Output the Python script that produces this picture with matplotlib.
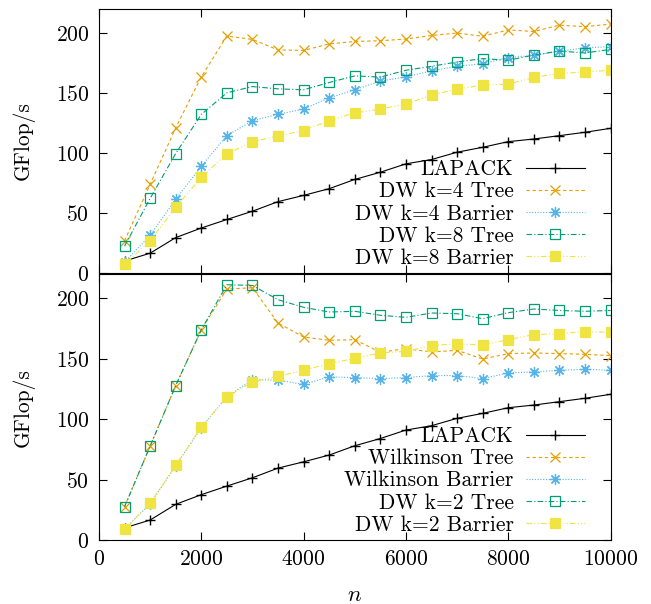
import numpy as np
import matplotlib
matplotlib.use("Agg")
import matplotlib.pyplot as plt

plt.rcParams['font.family'] = ['cmr10', 'DejaVu Serif']
plt.rcParams['mathtext.fontset'] = 'cm'
plt.rcParams['axes.formatter.use_mathtext'] = True
plt.rcParams['axes.linewidth'] = 0.8

n = np.arange(500, 10001, 500)

lapack = [10, 16.5, 29.5, 37.5, 44.6, 51.5, 59.5, 64.7, 70.3, 78,
          84, 91, 94.6, 100.7, 104.8, 109.5, 111.7, 114.5, 117.3, 120.6]

# top panel
dw4_tree = [26.8, 73.9, 121, 163.5, 197.5, 194.7, 186, 185.5, 191, 193,
            193.6, 195, 198, 200, 197.3, 202.6, 201.3, 206.6, 205.3, 207.5]
dw4_barrier = [9, 31.5, 61.4, 89, 114.5, 127, 132.3, 136.7, 146, 152.7,
               160, 163.5, 168.5, 172.3, 174.5, 179.5, 181.4, 184.7, 187.8, 188.6]
dw8_tree = [22.4, 62.2, 99.6, 132.2, 150.2, 155.4, 153.5, 152.7, 158.8, 164.3,
            163.3, 169, 172.3, 175.9, 178.7, 177.3, 181.7, 185, 183.4, 186.4]
dw8_barrier = [7.5, 26.8, 54.8, 79.7, 99.3, 109.3, 114.3, 118.7, 127, 133.4,
               136.7, 140.8, 148.3, 153.3, 156.6, 157.4, 163, 166.3, 167.6, 169]

# bottom panel
wilk_tree = [27.5, 77.7, 127.8, 174, 207.7, 208.8, 179.6, 168, 165.3, 165.8,
             155.4, 158.4, 155.6, 157, 149.8, 154.3, 154.8, 154.3, 153.7, 152.6]
wilk_barrier = [9, 30, 61.5, 93, 118.5, 132.8, 132.2, 128.9, 135, 134.4,
                133.6, 134.4, 136.1, 136.1, 133.6, 138.3, 139.1, 140.5, 141.3, 140.5]
dw2_tree = [27.5, 77.7, 127.8, 174, 211.3, 210.7, 198.9, 192.6, 188.7, 189.3,
            186, 184.3, 187.9, 187.3, 183.2, 188.2, 191.2, 190, 189.3, 190]
dw2_barrier = [9.1, 30.3, 61.7, 93.4, 118.5, 130.8, 135.5, 140.5, 146, 150.3,
               154.8, 156.2, 160.9, 162.5, 161.4, 165.8, 170, 170.8, 172.5, 171.9]

top_labels = ["LAPACK", "DW k=4 Tree", "DW k=4 Barrier", "DW k=8 Tree", "DW k=8 Barrier"]
bottom_labels = ["LAPACK", "Wilkinson Tree", "Wilkinson Barrier", "DW k=2 Tree", "DW k=2 Barrier"]

styles = [
    dict(color="black", ls="-", marker="+", ms=7, mew=1.0),
    dict(color="#E69F00", ls=(0, (3, 2.5)), marker="x", ms=6.5, mew=0.9),
    dict(color="#56B4E9", ls=(0, (1, 1.5)), marker=(8, 2, 0), ms=8, mew=0.9),
    dict(color="#009E73", ls=(0, (5, 2, 1, 2)), marker="s", ms=6.5, mew=0.9, mfc="none"),
    dict(color="#F0E442", ls=(0, (5, 2, 1, 2, 1, 2)), marker="s", ms=6.5, mew=0.9),
]

fs = 15.5

fig = plt.figure(figsize=(6.51, 6.04), dpi=100)
ax1 = fig.add_axes([0.152, 0.548, 0.786, 0.437])
ax2 = fig.add_axes([0.152, 0.106, 0.786, 0.440])


def draw(ax, series, labels):
    for y, lab, st in zip(series, labels, styles):
        ax.plot(n, y, lw=0.8, label=lab, **st)
    ax.set_xlim(0, 10000)
    ax.set_ylim(0, 220)
    ax.set_yticks([0, 50, 100, 150, 200])
    ax.set_xticks([0, 2000, 4000, 6000, 8000, 10000])
    ax.tick_params(direction="in", top=True, right=True, length=6, width=0.8,
                   labelsize=fs, pad=7)
    ax.set_ylabel("GFlop/s", fontsize=fs)
    ax.legend(loc="lower right", frameon=False, markerfirst=False, fontsize=fs,
              handlelength=2.7, handletextpad=0.6, labelspacing=0.12,
              borderpad=0, borderaxespad=0, bbox_to_anchor=(0.949, 0.02))


draw(ax1, [lapack, dw4_tree, dw4_barrier, dw8_tree, dw8_barrier], top_labels)
draw(ax2, [lapack, wilk_tree, wilk_barrier, dw2_tree, dw2_barrier], bottom_labels)
ax1.tick_params(labelbottom=False)
ax2.set_xlabel("$n$", fontsize=fs + 1, labelpad=12)

for ax in (ax1, ax2):
    ax.yaxis.set_label_coords(-0.125, 0.5)

fig.savefig("out.png", dpi=100)
